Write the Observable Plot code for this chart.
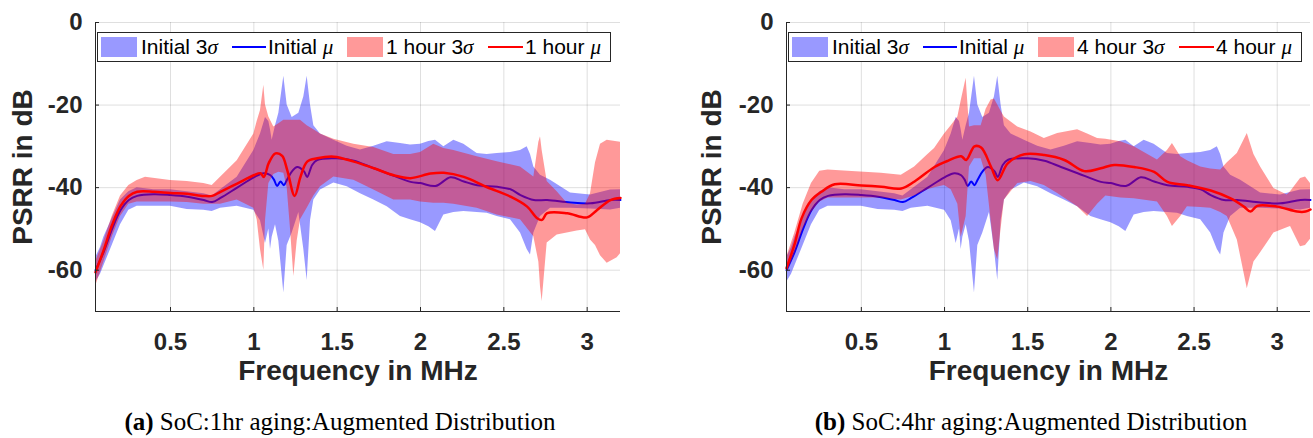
<!DOCTYPE html>
<html><head><meta charset="utf-8">
<script src="https://cdn.jsdelivr.net/npm/d3@7"></script>
<script src="https://cdn.jsdelivr.net/npm/@observablehq/plot@0.6"></script>
<style>
body{margin:0;background:#fff;}
#wrap{position:relative;width:1313px;height:438px;overflow:hidden;font-family:"Liberation Sans",Arial,sans-serif;}
.panel{position:absolute;top:0;}
.legend{position:absolute;top:32px;height:28px;border:1px solid #262626;background:#fff;}
.legend .patch{position:absolute;top:4px;width:36px;height:20px;}
.legend .line{position:absolute;top:13px;height:2px;}
.legend .txt{position:absolute;top:0;line-height:28px;font-size:21px;color:#000;white-space:nowrap;}
.legend i{font-family:"Liberation Serif","DejaVu Serif",serif;font-style:italic;}
.caption{position:absolute;top:408px;width:600px;text-align:center;font-family:"Liberation Serif","Times New Roman",serif;font-size:25px;color:#000;line-height:normal;white-space:nowrap;}
</style></head>
<body>
<div id="wrap"></div>
<script>
// ---------- data ----------
const xDomain = [0.05, 3.2];
const yDomain = [-70, 0];
const xTicks = [0.5, 1, 1.5, 2, 2.5, 3];
const yTicks = [-60, -40, -20, 0];
const xLabel = "Frequency in MHz";
const yLabel = "PSRR in dB";

// [frequency MHz, lower 3σ, upper 3σ]
const initialBand = [[0.05,-63,-57],[0.08,-61,-54.5],[0.1,-59,-52],[0.15,-54,-47.5],[0.2,-49,-43],[0.25,-45.5,-41],[0.3,-44.5,-40],[0.4,-44.5,-40.5],[0.5,-44.5,-40.5],[0.6,-45.3,-41],[0.7,-45.5,-41.5],[0.75,-45.8,-42],[0.8,-45,-40.5],[0.9,-44.5,-37.5],[1.0,-45.5,-31],[1.04,-48,-27],[1.07,-53.5,-23],[1.09,-50,-24],[1.1,-55,-26],[1.11,-52,-28.5],[1.13,-49,-25],[1.15,-53,-22],[1.18,-65.5,-13],[1.2,-54,-20],[1.23,-51,-23],[1.27,-46,-22],[1.3,-55,-18],[1.32,-62.5,-13],[1.34,-48,-20],[1.36,-43,-25],[1.4,-40.6,-27],[1.48,-38.9,-28.5],[1.56,-39.8,-30],[1.64,-41.5,-30.9],[1.72,-43,-30],[1.8,-44.6,-28.9],[1.88,-47,-29.3],[1.94,-47.8,-29.7],[2.0,-48.5,-29.5],[2.05,-49.5,-28.8],[2.09,-50.6,-28.5],[2.14,-46.6,-30.1],[2.2,-46,-28.5],[2.26,-45.8,-29.5],[2.34,-46,-31.7],[2.4,-46.2,-32],[2.46,-47,-31.7],[2.54,-47.8,-31.5],[2.6,-51,-31],[2.64,-55,-30.1],[2.66,-56.3,-32],[2.68,-51,-35],[2.72,-47,-37],[2.78,-45,-38.2],[2.9,-45,-41.3],[3.02,-45.2,-41.8],[3.14,-45.4,-40.6],[3.2,-45,-40.5]];
// [frequency MHz, mean]
const initialMean = [[0.05,-60],[0.1,-55.5],[0.15,-50],[0.2,-45.5],[0.25,-43],[0.3,-42],[0.4,-41.6],[0.5,-41.8],[0.6,-42.2],[0.7,-43],[0.75,-43.5],[0.8,-42.5],[0.9,-40],[1.0,-37.5],[1.06,-36.5],[1.1,-37],[1.12,-38],[1.14,-39.6],[1.16,-38.5],[1.18,-39.4],[1.2,-38],[1.23,-36],[1.26,-35],[1.3,-36],[1.32,-37.4],[1.35,-34.5],[1.38,-33.3],[1.5,-32.9],[1.6,-33.5],[1.7,-35],[1.8,-36.5],[1.94,-38.6],[2.0,-38.9],[2.09,-39.6],[2.18,-37.5],[2.26,-38.5],[2.34,-39.4],[2.46,-39.8],[2.54,-40.4],[2.6,-41.8],[2.68,-43],[2.76,-43],[2.9,-43.6],[3.02,-43.8],[3.14,-43],[3.2,-43]];

const hour1Band = [[0.05,-64,-58],[0.1,-58,-53],[0.15,-52,-47],[0.2,-47,-42],[0.25,-44,-39.5],[0.3,-43.5,-38.3],[0.35,-43.5,-37.5],[0.5,-43.5,-38.3],[0.6,-43.6,-38.5],[0.7,-44,-39],[0.75,-44,-39.5],[0.8,-44,-37.5],[0.9,-43,-33.5],[1.0,-45,-27],[1.02,-47.8,-24],[1.04,-55,-21.3],[1.06,-60,-15.2],[1.07,-48,-20],[1.09,-39,-22.9],[1.12,-36.8,-25.3],[1.15,-36.3,-24.5],[1.18,-36.5,-23.7],[1.2,-40,-23.7],[1.22,-50,-23.7],[1.24,-61.5,-23.7],[1.26,-53,-23.7],[1.28,-47.8,-23.7],[1.32,-45,-25],[1.36,-42,-26],[1.4,-39.8,-27],[1.48,-37.4,-28.3],[1.6,-38.2,-29.5],[1.72,-40.6,-30.3],[1.84,-43,-32],[1.94,-43,-32],[2.0,-43.5,-31.5],[2.08,-43.8,-29.5],[2.14,-43.8,-30.5],[2.2,-44,-31],[2.34,-45,-32.5],[2.46,-46.6,-33.7],[2.6,-47.8,-35],[2.68,-51.9,-37.4],[2.71,-58,-29],[2.72,-64,-27.7],[2.73,-67.6,-31],[2.76,-53.4,-38.5],[2.82,-51.5,-41],[2.88,-51,-43.8],[2.94,-50.5,-44.2],[2.99,-50.2,-44],[3.02,-52.7,-41.5],[3.05,-54,-34],[3.08,-56.5,-29.5],[3.12,-58.3,-28.5],[3.18,-57,-28.9],[3.2,-56,-29]];
const hour1Mean = [[0.05,-60.5],[0.1,-55],[0.15,-49],[0.2,-44.5],[0.25,-42],[0.3,-41],[0.4,-41],[0.5,-41.3],[0.6,-41.5],[0.7,-42],[0.75,-42],[0.8,-41],[0.9,-39],[1.0,-37],[1.04,-36.5],[1.06,-37.4],[1.09,-34],[1.13,-31.7],[1.17,-32.3],[1.2,-35.7],[1.245,-42],[1.28,-37.4],[1.32,-33.7],[1.38,-32.9],[1.48,-32.5],[1.6,-33.7],[1.72,-35.3],[1.84,-37],[1.94,-37.7],[2.06,-36.6],[2.14,-36.4],[2.26,-37.4],[2.4,-39.9],[2.54,-42.2],[2.64,-44.6],[2.7,-47.4],[2.73,-47.8],[2.76,-46.2],[2.88,-46.2],[3.0,-47.2],[3.06,-45.4],[3.14,-43],[3.2,-42.5]];

const hour4Band = [[0.05,-61,-57],[0.1,-56,-51],[0.15,-50,-44],[0.2,-46,-39],[0.25,-43.5,-36],[0.3,-42.5,-35.7],[0.42,-42.5,-36],[0.62,-42.5,-36.5],[0.74,-43,-37],[0.82,-42,-35],[0.9,-40.5,-32],[0.94,-40,-30.5],[1.0,-39.5,-27],[1.04,-40.5,-25],[1.08,-44,-22.9],[1.1,-52,-19],[1.13,-47,-13.5],[1.15,-35,-25.3],[1.18,-33,-25],[1.22,-33,-25],[1.25,-37,-21],[1.28,-48,-18.8],[1.3,-55,-18.5],[1.32,-57.5,-20],[1.34,-50,-21.5],[1.36,-43,-22.9],[1.44,-39,-25.3],[1.52,-38.5,-26.5],[1.6,-39.5,-28.1],[1.68,-41.4,-26.9],[1.8,-44.6,-26],[1.86,-47,-27],[1.92,-44,-28.1],[1.97,-42,-28.3],[2.06,-42.5,-28.9],[2.14,-42.7,-30.1],[2.28,-43.5,-33.3],[2.34,-47,-31],[2.37,-49.4,-29.3],[2.42,-47,-32.5],[2.46,-44.6,-33.5],[2.54,-44.8,-35],[2.6,-45,-35.5],[2.66,-46,-35.7],[2.7,-47,-34],[2.76,-52.7,-31.7],[2.82,-64.5,-26.9],[2.86,-58,-32],[2.9,-55.8,-35],[2.98,-51,-40.2],[3.06,-49.7,-41.8],[3.08,-49.4,-41],[3.14,-54.3,-37.8],[3.17,-54,-37.4],[3.2,-52.5,-39]];
const hour4Mean = [[0.05,-59.5],[0.1,-53.5],[0.14,-47.5],[0.2,-43],[0.26,-41],[0.34,-39.2],[0.5,-39.5],[0.62,-39.8],[0.74,-40.2],[0.82,-38.5],[0.94,-35],[1.02,-33.5],[1.1,-32.4],[1.13,-33.3],[1.18,-30],[1.22,-30.3],[1.28,-35],[1.32,-38.2],[1.38,-34.1],[1.48,-31.9],[1.6,-32.1],[1.72,-33.3],[1.84,-36],[1.94,-35.3],[2.02,-34.5],[2.14,-35],[2.26,-36.2],[2.34,-38.6],[2.46,-39.4],[2.6,-40.7],[2.72,-42.6],[2.8,-44.6],[2.84,-45.8],[2.88,-44.4],[3.0,-44.6],[3.12,-45.8],[3.17,-45.8],[3.2,-45.3]];

const panels = [
  {left: 0, width: 656, marginLeft: 95, marginRight: 36, ylabDx: -72, band: hour1Band, mean: hour1Mean,
   names: ["Initial 3", "Initial ", "1 hour 3", "1 hour "], tag: "(a)", caption: " SoC:1hr aging:Augmented Distribution", capCenter: 340},
  {left: 656, width: 657, marginLeft: 130, marginRight: 3, ylabDx: -74, band: hour4Band, mean: hour4Mean,
   names: ["Initial 3", "Initial ", "4 hour 3", "4 hour "], tag: "(b)", caption: " SoC:4hr aging:Augmented Distribution", capCenter: 1031}
];

const INK = "#262626";
const wrap = document.getElementById("wrap");

for (const p of panels) {
  const chart = Plot.plot({
    width: p.width, height: 400,
    marginTop: 22, marginBottom: 89, marginLeft: p.marginLeft, marginRight: p.marginRight,
    x: {domain: xDomain},
    y: {domain: yDomain},
    style: {fontFamily: "'Liberation Sans', Arial, sans-serif", fontSize: "24px", fontWeight: "bold", color: INK, background: "transparent", overflow: "visible"},
    marks: [
      Plot.gridX(xTicks, {stroke: INK, strokeOpacity: 0.15}),
      Plot.gridY(yTicks, {stroke: INK, strokeOpacity: 0.15}),
      Plot.areaY(initialBand, {x: d => d[0], y1: d => d[1], y2: d => d[2], fill: "#0000ff", fillOpacity: 0.4}),
      Plot.lineY(initialMean, {x: d => d[0], y: d => d[1], stroke: "#0000ff", strokeWidth: 2, curve: "catmull-rom"}),
      Plot.areaY(p.band, {x: d => d[0], y1: d => d[1], y2: d => d[2], fill: "#ff0000", fillOpacity: 0.4}),
      Plot.lineY(p.mean, {x: d => d[0], y: d => d[1], stroke: "#ff0000", strokeWidth: 2.5, curve: "catmull-rom"}),
      Plot.ruleX([xDomain[0]], {stroke: INK}),
      Plot.ruleY([yDomain[0]], {stroke: INK}),
      Plot.axisX(xTicks, {tickSize: -4, tickFormat: () => "", label: null, stroke: INK}),
      Plot.axisX(xTicks, {tickSize: 0, tickPadding: 21, label: null, tickFormat: d => String(d), fill: INK}),
      Plot.axisY(yTicks, {tickSize: -4, tickFormat: () => "", label: null, stroke: INK}),
      Plot.axisY(yTicks, {tickSize: 0, tickPadding: 13, label: null, tickFormat: d => String(d), fill: INK}),
      Plot.text([xLabel], {text: d => d, frameAnchor: "bottom", textAnchor: "middle", dy: 68, fontSize: 28, fontWeight: "bold", fill: INK}),
      Plot.text([yLabel], {text: d => d, frameAnchor: "left", textAnchor: "middle", rotate: -90, dx: p.ylabDx, fontSize: 28, fontWeight: "bold", fill: INK})
    ]
  });
  const div = document.createElement("div");
  div.className = "panel";
  div.style.left = p.left + "px";
  div.appendChild(chart);
  wrap.appendChild(div);

  // legend inside the axes
  const lg = document.createElement("div");
  lg.className = "legend";
  lg.style.left = (p.left + p.marginLeft + 2) + "px";
  lg.style.width = "512px";
  lg.innerHTML =
    `<div class="patch" style="left:3px;background:rgba(0,0,255,0.4)"></div>` +
    `<div class="txt" style="left:43px">${p.names[0]}<i>σ</i></div>` +
    `<div class="line" style="left:134px;width:34px;background:#0000ff"></div>` +
    `<div class="txt" style="left:170px">${p.names[1]}<i>μ</i></div>` +
    `<div class="patch" style="left:249px;background:rgba(255,0,0,0.4)"></div>` +
    `<div class="txt" style="left:288px">${p.names[2]}<i>σ</i></div>` +
    `<div class="line" style="left:390px;width:35px;background:#ff0000"></div>` +
    `<div class="txt" style="left:427px">${p.names[3]}<i>μ</i></div>`;
  wrap.appendChild(lg);

  const cap = document.createElement("div");
  cap.className = "caption";
  cap.style.left = (p.capCenter - 300) + "px";
  cap.innerHTML = `<b>${p.tag}</b>${p.caption}`;
  wrap.appendChild(cap);
}
</script>
</body></html>
